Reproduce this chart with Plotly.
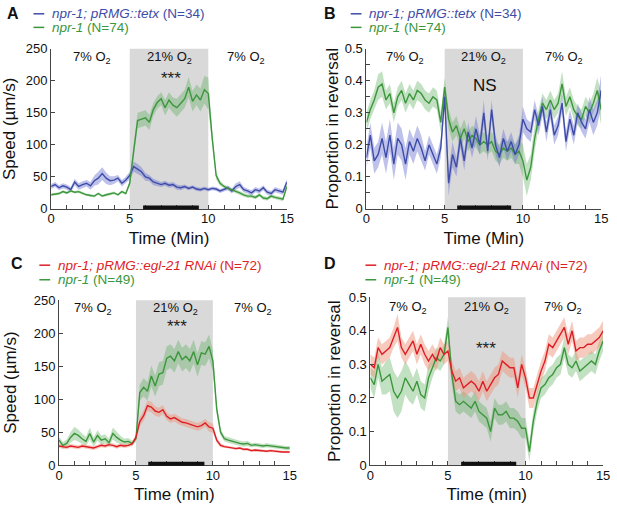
import numpy as np
import plotly.graph_objects as go

# time axis, one sample every 15 s
t = np.arange(61) * 0.25

# panel A: speed, npr-1; pRMG::tetx vs npr-1
tetx_speed = [35, 38, 33, 36, 34, 30, 42, 35, 38, 40, 36, 44, 48, 55, 48, 44, 45, 48, 40, 45,
              52, 66, 62, 58, 50, 48, 42, 40, 38, 40, 37, 38, 34, 33, 35, 32, 34, 31, 30, 32,
              30, 32, 31, 28, 30, 33, 28, 35, 38, 30, 28, 25, 30, 28, 33, 26, 24, 30, 28, 26,
              42]
tetx_speed_sem = [4, 4, 4, 4, 4, 4, 5, 5, 5, 5, 6, 8, 10, 10, 9, 7, 6, 5, 5, 5,
                  6, 8, 8, 7, 6, 5, 5, 4, 4, 4, 4, 4, 4, 4, 3, 3, 3, 3, 3, 3,
                  3, 3, 3, 3, 3, 4, 4, 5, 5, 4, 4, 4, 4, 4, 4, 4, 4, 4, 4, 4,
                  5]
npr1_speed_a = [22, 23, 24, 27, 25, 28, 26, 27, 24, 22, 21, 20, 24, 20, 22, 23, 25, 22, 27, 24,
                40, 90, 138, 140, 142, 135, 155, 166, 172, 158, 170, 162, 158, 165, 172, 190, 168, 178, 170, 186,
                180, 110, 52, 40, 35, 32, 30, 27, 25, 22, 20, 20, 18, 22, 17, 16, 20, 18, 17, 15,
                35]
npr1_speed_a_sem = [2, 2, 2, 2, 2, 2, 2, 2, 2, 2, 2, 2, 2, 2, 2, 2, 2, 2, 2, 2,
                    5, 10, 12, 12, 12, 12, 10, 10, 10, 12, 12, 12, 14, 14, 14, 16, 16, 16, 18, 22,
                    25, 12, 6, 4, 3, 3, 3, 3, 3, 3, 3, 3, 3, 3, 3, 3, 3, 3, 3, 3,
                    4]

# panel B: proportion in reversal
tetx_rev = [.16, .23, .15, .17, .22, .16, .23, .14, .22, .20, .14, .21, .18, .22, .19, .15, .20, .17, .14, .19,
            .35, .08, .17, .13, .22, .15, .24, .19, .25, .20, .30, .18, .31, .20, .16, .22, .18, .21, .17, .20,
            .28, .25, .24, .31, .26, .32, .24, .31, .23, .26, .33, .21, .28, .23, .30, .27, .25, .31, .27, .30,
            .37]
tetx_rev_sem = [.03, .04, .04, .04, .05, .05, .05, .05, .05, .05, .05, .04, .04, .04, .04, .03, .03, .03, .03, .03,
                .03, .04, .04, .03, .03, .03, .03, .03, .04, .03, .04, .03, .03, .03, .03, .03, .03, .03, .03, .03,
                .04, .03, .03, .03, .03, .03, .03, .03, .03, .03, .03, .03, .03, .03, .03, .03, .03, .04, .04, .04,
                .05]
npr1_rev_b = [.27, .31, .34, .38, .39, .34, .36, .30, .35, .37, .33, .36, .34, .37, .36, .34, .33, .35, .34, .27,
              .38, .28, .24, .26, .22, .25, .21, .23, .22, .20, .21, .20, .21, .18, .17, .19, .18, .19, .17, .18,
              .15, .09, .13, .22, .28, .33, .31, .34, .31, .33, .39, .32, .35, .31, .29, .28, .32, .30, .33, .37,
              .31]
npr1_rev_b_sem = [.03, .03, .03, .04, .04, .03, .03, .03, .03, .03, .03, .03, .03, .03, .03, .03, .03, .03, .03, .03,
                  .03, .03, .03, .03, .03, .03, .03, .03, .03, .03, .03, .03, .03, .03, .03, .03, .03, .03, .03, .04,
                  .05, .05, .04, .04, .03, .03, .03, .03, .03, .03, .04, .03, .03, .03, .03, .03, .03, .03, .03, .04,
                  .05]

# panel C: speed, npr-1; pRMG::egl-21 RNAi vs npr-1
rnai_speed = [29, 28, 27, 29, 28, 27, 29, 28, 27, 26, 28, 30, 29, 31, 30, 28, 30, 29, 30, 32,
              42, 66, 75, 90, 88, 82, 80, 84, 74, 70, 72, 68, 65, 64, 62, 60, 58, 60, 64, 58,
              56, 38, 30, 28, 27, 27, 25, 26, 24, 24, 22, 23, 22, 22, 21, 22, 21, 21, 20, 20,
              20]
rnai_speed_sem = [3, 3, 3, 3, 3, 3, 3, 3, 3, 3, 3, 3, 3, 3, 3, 3, 3, 3, 3, 3,
                  4, 7, 8, 8, 8, 7, 7, 7, 6, 6, 6, 6, 6, 6, 6, 6, 6, 6, 6, 7,
                  7, 4, 3, 2, 2, 2, 2, 2, 2, 2, 2, 2, 2, 2, 2, 2, 2, 2, 2, 2,
                  2]
npr1_speed_c = [38, 30, 33, 42, 48, 45, 40, 36, 48, 35, 45, 38, 40, 34, 48, 42, 38, 35, 36, 33,
                40, 110, 118, 112, 135, 120, 138, 140, 162, 165, 158, 172, 160, 165, 158, 172, 152, 170, 168, 180,
                158, 85, 50, 40, 38, 36, 35, 33, 32, 33, 30, 31, 30, 29, 30, 29, 28, 28, 27, 26,
                26]
npr1_speed_c_sem = [5, 5, 6, 8, 10, 9, 8, 7, 9, 7, 8, 7, 7, 6, 9, 8, 6, 5, 5, 4,
                    5, 12, 14, 14, 16, 16, 18, 18, 18, 18, 18, 18, 18, 18, 18, 18, 18, 18, 18, 18,
                    16, 8, 5, 4, 4, 4, 4, 4, 4, 4, 3, 3, 3, 3, 3, 3, 3, 3, 3, 3,
                    3]

# panel D: proportion in reversal
rnai_rev = [.30, .29, .35, .33, .34, .35, .38, .41, .35, .33, .35, .37, .33, .36, .33, .31, .33, .31, .35, .33,
            .34, .28, .25, .26, .23, .24, .25, .24, .22, .25, .22, .24, .26, .27, .31, .30, .29, .29, .23, .30,
            .26, .20, .20, .24, .28, .31, .36, .35, .37, .39, .41, .36, .40, .34, .35, .35, .36, .36, .37, .38,
            .40]
rnai_rev_sem = [.03, .03, .03, .03, .03, .03, .03, .04, .03, .03, .03, .03, .03, .03, .03, .03, .03, .03, .03, .03,
                .03, .03, .03, .03, .03, .03, .03, .03, .03, .03, .03, .03, .03, .03, .03, .03, .03, .03, .03, .03,
                .03, .03, .03, .03, .03, .03, .03, .03, .03, .03, .03, .03, .03, .03, .03, .03, .03, .03, .03, .03,
                .03]
npr1_rev_d = [.26, .24, .30, .25, .26, .27, .22, .20, .22, .26, .24, .22, .25, .21, .20, .26, .29, .32, .31, .33,
              .41, .27, .19, .18, .19, .18, .17, .19, .16, .15, .14, .10, .17, .15, .15, .16, .14, .14, .13, .11,
              .11, .04, .13, .19, .23, .24, .26, .27, .29, .30, .35, .30, .29, .31, .28, .29, .30, .31, .30, .34,
              .37]
npr1_rev_d_sem = [.03, .04, .04, .04, .05, .05, .06, .06, .06, .05, .05, .04, .04, .04, .04, .04, .03, .03, .03, .03,
                  .03, .03, .03, .03, .03, .03, .03, .03, .03, .03, .03, .03, .03, .03, .03, .03, .03, .03, .03, .03,
                  .03, .03, .03, .03, .03, .03, .03, .03, .03, .03, .03, .03, .03, .03, .03, .03, .03, .03, .03, .03,
                  .03]

# analysis window bars (min)
bar_a = [5.85, 9.4]
bar_b = [5.8, 9.25]
bar_c = [5.8, 9.45]
bar_d = [5.85, 9.4]

BLUE = "rgb(62,76,168)"
BLUE_BAND = "rgba(110,120,210,0.45)"
GREEN = "rgb(60,150,60)"
GREEN_BAND = "rgba(80,170,80,0.35)"
RED = "rgb(222,30,38)"
RED_BAND = "rgba(240,150,125,0.5)"
FONT = "Liberation Sans, Arial, sans-serif"

fig = go.Figure()


def add_series(ax, y, sem, color, band):
    y = np.array(y, dtype=float)
    sem = np.array(sem, dtype=float)
    xs = np.concatenate([t, t[::-1]])
    ys = np.concatenate([y + sem, (y - sem)[::-1]])
    fig.add_trace(go.Scatter(x=xs, y=ys, fill="toself", fillcolor=band, line=dict(width=0),
                             mode="lines", hoverinfo="skip", showlegend=False,
                             xaxis="x" + ax, yaxis="y" + ax))
    return dict(x=t, y=y, mode="lines", line=dict(color=color, width=1.4), showlegend=False,
                xaxis="x" + ax, yaxis="y" + ax)


lines = []
lines.append(add_series("", tetx_speed, tetx_speed_sem, BLUE, BLUE_BAND))
lines.append(add_series("", npr1_speed_a, npr1_speed_a_sem, GREEN, GREEN_BAND))
lines.append(add_series("2", npr1_rev_b, npr1_rev_b_sem, GREEN, GREEN_BAND))
lines.append(add_series("2", tetx_rev, tetx_rev_sem, BLUE, BLUE_BAND))
lines.append(add_series("3", npr1_speed_c, npr1_speed_c_sem, GREEN, GREEN_BAND))
lines.append(add_series("3", rnai_speed, rnai_speed_sem, RED, RED_BAND))
lines.append(add_series("4", npr1_rev_d, npr1_rev_d_sem, GREEN, GREEN_BAND))
lines.append(add_series("4", rnai_rev, rnai_rev_sem, RED, RED_BAND))
for ln in lines:
    fig.add_trace(go.Scatter(**ln))

W, H = 617, 511
panels = [
    # axis suffix, x px range, y px range (top, bottom), y max, y dtick, minor, titles, bar, y title standoff
    ("", (48, 288), (43, 208), 250, 50, None, "Time (Min)", "Speed (µm/s)", bar_a, 14),
    ("2", (369, 608), (43, 208), 0.5, 0.1, 0.05, "Time (Min)", "Proportion in reversal", bar_b, 1),
    ("3", (56, 291), (302, 472), 250, 50, None, "Time (min)", "Speed (µm/s)", bar_c, 12),
    ("4", (373, 610), (299, 472), 0.5, 0.1, None, "Time (min)", "Proportion in reversal", bar_d, 3),
]

layout_axes = {}
shapes = []
for ax, (x0, x1), (ytop, ybot), ymax, dtick, minor, xt, yt, bar, ystand in panels:
    xname = "xaxis" + ax
    yname = "yaxis" + ax
    layout_axes[xname] = dict(
        domain=[x0 / W, x1 / W], range=[0, 15], anchor="y" + ax,
        tickvals=[0, 5, 10, 15], ticks="inside", ticklen=4, tickcolor="#444",
        minor=dict(dtick=1, ticks="inside", ticklen=4, tickcolor="#444"),
        showline=True, linecolor="#444", linewidth=1, showgrid=False, zeroline=False,
        ticklabelstandoff=-2,
        tickfont=dict(size=13, color="#111", family=FONT),
        title=dict(text=xt, font=dict(size=17, color="#111", family=FONT), standoff=6),
    )
    ydict = dict(
        domain=[1 - ybot / H, 1 - ytop / H], range=[0, ymax], anchor="x" + ax,
        dtick=dtick, ticks="inside", ticklen=4, tickcolor="#444",
        showline=True, linecolor="#444", linewidth=1, showgrid=False, zeroline=False,
        tickfont=dict(size=13, color="#111", family=FONT),
        title=dict(text=yt, font=dict(size=17, color="#111", family=FONT), standoff=ystand),
    )
    if minor:
        ydict["minor"] = dict(dtick=minor, ticks="inside", ticklen=4, tickcolor="#444")
    layout_axes[yname] = ydict
    shapes.append(dict(type="rect", xref="x" + ax, yref="y" + ax + " domain",
                       x0=5, x1=10, y0=0, y1=1, fillcolor="rgb(217,217,217)",
                       line=dict(width=0), layer="below"))
    shapes.append(dict(type="line", xref="x" + ax, yref="y" + ax + " domain",
                       x0=bar[0], x1=bar[1], y0=0.008, y1=0.008,
                       line=dict(color="#111", width=4)))

ann = []
o2_y = {"": 236, "2": 0.473, "3": 238, "4": 0.468}
o2_x = {"": (2.6, 7.5, 12.4), "2": (2.45, 7.5, 12.6), "3": (2.2, 7.6, 12.6), "4": (2.45, 7.5, 12.4)}
for ax in ["", "2", "3", "4"]:
    for xv, lab in zip(o2_x[ax], ["7% O<sub>2</sub>", "21% O<sub>2</sub>", "7% O<sub>2</sub>"]):
        ann.append(dict(x=xv, y=o2_y[ax], xref="x" + ax, yref="y" + ax, text=lab, showarrow=False,
                        font=dict(size=13, color="#111", family=FONT)))

ann.append(dict(x=7.6, y=203, xref="x", yref="y", text="***", showarrow=False,
                font=dict(size=17, color="#222", family=FONT)))
ann.append(dict(x=7.56, y=0.385, xref="x2", yref="y2", text="NS", showarrow=False,
                font=dict(size=17, color="#111", family=FONT)))
ann.append(dict(x=7.7, y=210, xref="x3", yref="y3", text="***", showarrow=False,
                font=dict(size=17, color="#222", family=FONT)))
ann.append(dict(x=7.44, y=0.347, xref="x4", yref="y4", text="***", showarrow=False,
                font=dict(size=17, color="#222", family=FONT)))

# panel letters
for lab, px, py in [("A", 1, 7), ("B", 324, 7), ("C", 5, 264), ("D", 324, 264)]:
    ann.append(dict(x=px / W, y=1 - py / H, xref="paper", yref="paper", text="<b>%s</b>" % lab,
                    showarrow=False, xanchor="left", yanchor="middle",
                    font=dict(size=16, color="#111", family=FONT)))

# legends
legends = [
    (30, 7, BLUE, "<i>npr-1; pRMG::tetx</i> (N=34)"),
    (30, 21, GREEN, "<i>npr-1</i> (N=74)"),
    (353, 7, BLUE, "<i>npr-1; pRMG::tetx</i> (N=34)"),
    (353, 21, GREEN, "<i>npr-1</i> (N=74)"),
    (36, 266, RED, "<i>npr-1; pRMG::egl-21 RNAi</i> (N=72)"),
    (36, 281, GREEN, "<i>npr-1</i> (N=49)"),
    (368, 266, RED, "<i>npr-1; pRMG::egl-21 RNAi</i> (N=72)"),
    (368, 281, GREEN, "<i>npr-1</i> (N=49)"),
]
for px, py, col, txt in legends:
    shapes.append(dict(type="line", xref="paper", yref="paper",
                       x0=px / W, x1=(px + 11) / W, y0=1 - py / H, y1=1 - py / H,
                       line=dict(color=col, width=1.5)))
    ann.append(dict(x=(px + 17) / W, y=1 - py / H, xref="paper", yref="paper", text=txt,
                    showarrow=False, xanchor="left", yanchor="middle",
                    font=dict(size=13.5, color=col, family=FONT)))

fig.update_layout(
    width=W, height=H, margin=dict(l=0, r=0, t=0, b=0),
    paper_bgcolor="white", plot_bgcolor="white",
    shapes=shapes, annotations=ann, showlegend=False,
    **layout_axes,
)

# drop the default page margin so the figure sits at the window's corner
fig.write_html("out.html", config={"displayModeBar": False},
               post_script="document.body.style.margin='0';")
